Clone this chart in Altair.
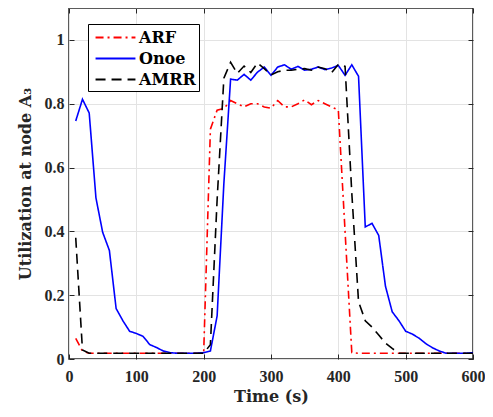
import altair as alt
import pandas as pd

# ---- data ----
t = [10, 20, 30, 40, 50, 60, 70, 80, 90, 100,
     110, 120, 130, 140, 150, 160, 170, 180, 190, 200,
     210, 220, 230, 240, 250, 260, 270, 280, 290, 300,
     310, 320, 330, 340, 350, 360, 370, 380, 390, 400,
     410, 420, 430, 440, 450, 460, 470, 480, 490, 500,
     510, 520, 530, 540, 550, 560, 570, 580, 590, 600]

arf = [0.065, 0.025, 0.018, 0.018, 0.018, 0.018, 0.018, 0.018, 0.018, 0.018,
       0.018, 0.018, 0.018, 0.018, 0.018, 0.018, 0.018, 0.018, 0.018, 0.018,
       0.72, 0.78, 0.785, 0.81, 0.80, 0.79, 0.80, 0.80, 0.79, 0.786,
       0.81, 0.79, 0.79, 0.80, 0.812, 0.797, 0.81, 0.80, 0.79, 0.78,
       0.40, 0.02, 0.018, 0.018, 0.018, 0.018, 0.018, 0.018, 0.018, 0.018,
       0.018, 0.018, 0.018, 0.018, 0.018, 0.018, 0.018, 0.018, 0.018, 0.018]

onoe = [0.746, 0.814, 0.771, 0.505, 0.397, 0.34, 0.158, 0.12, 0.087, 0.08,
        0.071, 0.045, 0.036, 0.025, 0.02, 0.018, 0.018, 0.018, 0.018, 0.02,
        0.025, 0.135, 0.55, 0.877, 0.874, 0.892, 0.874, 0.899, 0.915, 0.889,
        0.915, 0.922, 0.908, 0.917, 0.905, 0.908, 0.915, 0.907, 0.912, 0.92,
        0.889, 0.922, 0.886, 0.414, 0.425, 0.387, 0.228, 0.148, 0.12, 0.087,
        0.078, 0.065, 0.048, 0.035, 0.025, 0.018, 0.018, 0.018, 0.018, 0.02]

amrr = [0.38, 0.028, 0.018, 0.018, 0.018, 0.018, 0.018, 0.018, 0.018, 0.018,
        0.018, 0.018, 0.018, 0.018, 0.018, 0.018, 0.018, 0.018, 0.018, 0.018,
        0.045, 0.5, 0.88, 0.93, 0.895, 0.918, 0.898, 0.928, 0.91, 0.89,
        0.90, 0.905, 0.905, 0.908, 0.91, 0.905, 0.915, 0.91, 0.897, 0.923,
        0.917, 0.52, 0.18, 0.12, 0.10, 0.075, 0.05, 0.033, 0.018, 0.018,
        0.018, 0.018, 0.018, 0.018, 0.018, 0.018, 0.018, 0.018, 0.018, 0.018]

series_names = ["ARF", "Onoe", "AMRR"]
series_colors = ["#ff0000", "#0000ff", "#000000"]
series_dashes = [[8, 4, 2, 4], [1, 0], [10, 6]]

x_ticks = [0, 100, 200, 300, 400, 500, 600]
y_ticks = [0, 0.2, 0.4, 0.6, 0.8, 1]

x_title = "Time (s)"
y_title = "Utilization at node A\u2083"

rows = []
for name, vals in zip(series_names, [arf, onoe, amrr]):
    for ti, v in zip(t, vals):
        rows.append({"t": ti, "u": v, "series": name})
df = pd.DataFrame(rows)

LABEL_FONT = "Liberation Serif"
TITLE_FONT = "DejaVu Serif"
INK = "#262626"

xscale = alt.Scale(domain=[0, 600], nice=False)
yscale = alt.Scale(domain=[0, 1.1], nice=False)

lines = alt.Chart(df).mark_line(strokeWidth=1.6, clip=True).encode(
    x=alt.X("t:Q", scale=xscale,
            axis=alt.Axis(values=x_ticks, title=x_title, offset=-5, tickSize=5,
                          domain=False, grid=True, labelPadding=9, titlePadding=4,
                          labelFlush=False, format="d")),
    y=alt.Y("u:Q", scale=yscale,
            axis=alt.Axis(values=y_ticks, title=y_title, offset=-5, tickSize=5,
                          domain=False, grid=True, labelPadding=5, titlePadding=11,
                          labelFlush=False, format="~g")),
    color=alt.Color("series:N",
                    scale=alt.Scale(domain=series_names, range=series_colors),
                    legend=alt.Legend(title=None)),
    strokeDash=alt.StrokeDash("series:N",
                              scale=alt.Scale(domain=series_names, range=series_dashes),
                              legend=alt.Legend(title=None)),
    detail="series:N",
)

frame = alt.Chart(df).mark_line(opacity=0).encode(
    x=alt.X("t:Q", scale=xscale,
            axis=alt.Axis(orient="top", values=x_ticks, labels=False, title="",
                          offset=-5, tickSize=5, domain=False, grid=False)),
    y=alt.Y("u:Q", scale=yscale,
            axis=alt.Axis(orient="right", values=y_ticks, labels=False, title="",
                          offset=-5, tickSize=5, domain=False, grid=False)),
)

chart = alt.layer(lines, frame).resolve_axis(
    x="independent", y="independent"
).properties(
    width=404, height=351,
    autosize=alt.AutoSizeParams(type="none"),
    padding={"left": 61, "top": 0, "right": 12, "bottom": 50},
).configure_view(
    stroke=INK, strokeWidth=1.5
).configure_axis(
    labelFont=LABEL_FONT, labelFontSize=16, labelFontWeight="bold", labelColor=INK,
    titleFont=TITLE_FONT, titleFontSize=16, titleFontWeight="bold", titleColor=INK,
    tickColor=INK, tickWidth=1, gridColor="#e3e3e3", gridWidth=1,
).configure_legend(
    orient="none", legendX=19, legendY=16,
    strokeColor="#000000", fillColor="#ffffff", padding=3,
    symbolType="M-2.1,0H2.1", symbolSize=361, symbolStrokeWidth=2,
    symbolOffset=14, labelOffset=13,
    labelFont=TITLE_FONT, labelFontSize=16, labelFontWeight="bold", labelColor="#000000",
    rowPadding=2,
)

chart.save("out.html", embed_options={"renderer": "svg", "actions": False})
